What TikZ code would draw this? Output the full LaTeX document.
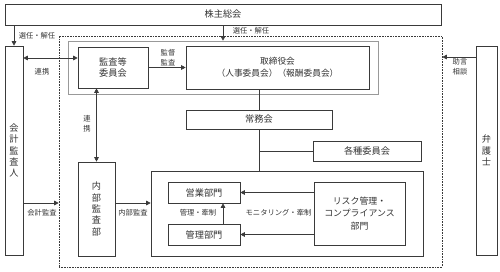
\documentclass[tikz,border=0pt]{standalone}
\usepackage{fontspec}
\setmainfont{Noto Sans CJK JP}
\usetikzlibrary{arrows.meta}
\definecolor{ln}{HTML}{3A3A3A}
\definecolor{tx}{HTML}{333333}
\tikzset{
  box/.style={draw=ln, line width=0.6pt, rectangle, inner sep=0pt, align=center, text=tx, font=\fontsize{9.2}{11.5}\selectfont},
  vbox/.style={box, font=\fontsize{9.2}{11.3}\selectfont},
  lbl/.style={text=tx, inner sep=0pt, align=center, font=\fontsize{7.3}{9.8}\selectfont},
  conn/.style={draw=ln, line width=0.6pt},
  arr/.style={conn, -{Triangle[length=4.5pt,width=4.5pt]}},
  darr/.style={conn, {Triangle[length=4.5pt,width=4.5pt]}-{Triangle[length=4.5pt,width=4.5pt]}},
}
\begin{document}
\begin{tikzpicture}[x=1pt,y=-1pt]
\useasboundingbox (0,0) rectangle (500,271);
% frames
\node[draw=ln, line width=0.6pt, densely dotted, minimum width=383pt, minimum height=231pt, inner sep=0pt] (outer) at (250.5,151.5) {};
\node[draw=black!40, line width=0.6pt, minimum width=310pt, minimum height=53pt, inner sep=0pt] (inner) at (223,67.5) {};
% boxes
\node[box, minimum width=436pt, minimum height=21pt] (sh) at (223,14.5) {株主総会};
\node[vbox, minimum width=18pt, minimum height=209pt] (kai) at (14,150.5) {会\\計\\監\\査\\人};
\node[vbox, minimum width=21pt, minimum height=209pt] (ben) at (486.5,150.5) {弁\\護\\士};
\node[box, minimum width=70pt, minimum height=41pt] (kansa) at (113,67.5) {監査等\\委員会};
\node[box, minimum width=183pt, minimum height=43pt, font=\fontsize{8.7}{12}\selectfont] (tori) at (277.5,67.5) {取締役会\\（人事委員会）（報酬委員会）};
\node[box, minimum width=146pt, minimum height=19pt] (jomu) at (259,119.5) {常務会};
\node[box, minimum width=108pt, minimum height=20pt] (kakushu) at (367,151) {各種委員会};
\node[vbox, minimum width=37pt, minimum height=94pt] (naibu) at (96.5,209) {内\\部\\監\\査\\部};
\node[box, minimum width=272pt, minimum height=85pt] (big) at (287,213.5) {};
\node[box, minimum width=72pt, minimum height=21pt] (eigyo) at (204,192.5) {営業部門};
\node[box, minimum width=72pt, minimum height=21pt] (kanri) at (204,234.5) {管理部門};
\node[box, minimum width=91pt, minimum height=63pt, font=\fontsize{8.9}{12.5}\selectfont] (risk) at (359.5,213.5) {リスク管理・\\コンプライアンス\\部門};
% helper coordinates
\coordinate (y58) at (0,58);
\coordinate (y57) at (0,57);
\coordinate (y203) at (0,203);
\coordinate (x223) at (223,0);
% connectors
\draw[arr] (kai.north |- sh.south) -- (kai.north);
\draw[arr] (sh.south) -- (inner.north);
\draw[darr] (kai.east |- y58) -- (kansa.west |- y58);
\draw[arr] (kansa.east) -- (tori.west);
\draw[conn] (jomu.north |- tori.south) -- (jomu.north);
\draw[conn] (jomu.south) -- (jomu.south |- big.north);
\draw[conn] (jomu.south |- kakushu.west) -- (kakushu.west);
\draw[darr] (naibu.north |- kansa.south) -- (naibu.north);
\draw[arr] (kai.east |- y203) -- (outer.west |- y203);
\draw[arr] (naibu.east |- y203) -- (big.west |- y203);
\draw[arr] (risk.west |- eigyo.east) -- (eigyo.east);
\draw[arr] (risk.west |- kanri.east) -- (kanri.east);
\draw[arr] (kanri.north -| x223) -- (eigyo.south -| x223);
\draw[arr] (ben.west |- y57) -- (outer.east |- y57);
% labels
\node[lbl] (l1) at (37,36) {選任・解任};
\node[lbl] (l2) at (251,31) {選任・解任};
\node[lbl] (l3) at (42,72) {連携};
\node[lbl] (l4) at (168,57.5) {監督\\監査};
\node[lbl] (l5) at (87,124) {連\\携};
\node[lbl] (l6) at (42,213) {会計監査};
\node[lbl] (l7) at (133,213) {内部監査};
\node[lbl] (l8) at (198,213) {管理・牽制};
\node[lbl] (l9) at (278.5,213) {モニタリング・牽制};
\node[lbl] (l10) at (460,67) {助言\\相談};
\end{tikzpicture}
\end{document}
